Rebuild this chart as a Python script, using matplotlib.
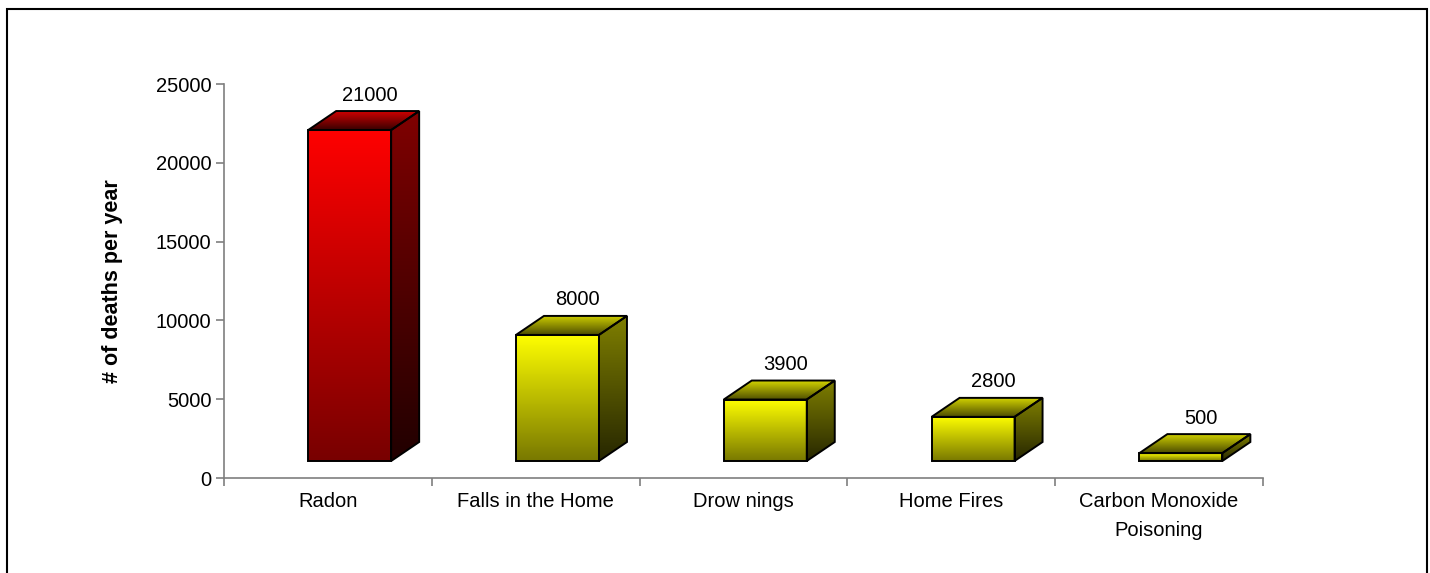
import numpy as np
import matplotlib
matplotlib.use("Agg")
import matplotlib.pyplot as plt
from matplotlib.patches import Polygon, Rectangle

categories = ["Radon", "Falls in the Home", "Drow nings", "Home Fires", "Carbon Monoxide\nPoisoning"]
values = [21000, 8000, 3900, 2800, 500]
value_labels = ["21000", "8000", "3900", "2800", "500"]
yticks = [0, 5000, 10000, 15000, 20000, 25000]

plt.rcParams['font.family'] = ['Liberation Sans', 'DejaVu Sans']

W, H = 1430, 573
fig = plt.figure(figsize=(W / 100, H / 100), dpi=100)
fig.patch.set_facecolor('white')

ax_l, ax_r, ax_t, ax_b = 224, 1263, 84, 478
ax = fig.add_axes([ax_l / W, (H - ax_b) / H, (ax_r - ax_l) / W, (ax_b - ax_t) / H])
ax.set_xlim(0, 5)
ax.set_ylim(0, 25000)

px_cat = (ax_r - ax_l) / 5.0
px_val = (ax_b - ax_t) / 25000.0

# 3D geometry (in data units)
dx = 28 / px_cat
dy = 19 / px_val
base = 17 / px_val
f_left = -0.095
f_width = 83 / px_cat


def grad_poly(verts, c_top, c_bot):
    verts = np.asarray(verts, float)
    xs, ys = verts[:, 0], verts[:, 1]
    n = 256
    t = np.linspace(0, 1, n)[:, None, None]
    c_top = np.array(c_top, float)[None, None, :]
    c_bot = np.array(c_bot, float)[None, None, :]
    img = c_top * (1 - t) + c_bot * t
    im = ax.imshow(img, extent=[xs.min(), xs.max(), ys.min(), ys.max()],
                   origin='upper', aspect='auto', zorder=2,
                   interpolation='bilinear', clip_on=True)
    clip = Polygon(verts, closed=True, transform=ax.transData)
    im.set_clip_path(clip)
    ax.add_patch(Polygon(verts, closed=True, facecolor='none',
                         edgecolor='black', lw=1.4, zorder=3,
                         joinstyle='miter', clip_on=False))


red = dict(front=((1.0, 0, 0), (0.47, 0, 0)),
           side=((0.50, 0, 0), (0.13, 0, 0)),
           top=((0.85, 0, 0), (0.22, 0, 0)))
yel = dict(front=((1.0, 1.0, 0), (0.47, 0.47, 0)),
           side=((0.50, 0.50, 0), (0.15, 0.15, 0)),
           top=((0.82, 0.82, 0), (0.30, 0.30, 0)))

for i, v in enumerate(values):
    pal = red if i == 0 else yel
    x0 = i + 0.5 + f_left
    x1 = x0 + f_width
    y0 = base
    y1 = base + v
    # side face
    grad_poly([(x1, y0), (x1 + dx, y0 + dy), (x1 + dx, y1 + dy), (x1, y1)], *pal['side'])
    # top face
    grad_poly([(x0, y1), (x1, y1), (x1 + dx, y1 + dy), (x0 + dx, y1 + dy)], *pal['top'])
    # front face
    grad_poly([(x0, y0), (x1, y0), (x1, y1), (x0, y1)], *pal['front'])
    # value label
    ax.text((x0 + x1) / 2 + 20 / px_cat, y1 + dy + 16 / px_val, value_labels[i],
            ha='center', va='center', fontsize=14.5, color='black', zorder=4)

ax.set_xlim(0, 5)
ax.set_ylim(0, 25000)

for s in ['top', 'right']:
    ax.spines[s].set_visible(False)
for s in ['left', 'bottom']:
    ax.spines[s].set_color('#7f7f7f')
    ax.spines[s].set_linewidth(1.2)

ax.set_yticks(yticks)
ax.set_yticklabels([str(t) for t in yticks], fontsize=14.5)
ax.tick_params(axis='y', direction='out', length=6, width=1.2, color='#7f7f7f', pad=3)

ax.set_xticks(np.arange(0, 6))
ax.set_xticklabels([])
ax.tick_params(axis='x', which='major', direction='out', length=6, width=1.2, color='#7f7f7f')
ax.set_xticks(np.arange(5) + 0.5, minor=True)
ax.set_xticklabels(categories, minor=True, fontsize=14.5, linespacing=1.7)
ax.tick_params(axis='x', which='minor', length=0, pad=10)

ax.set_ylabel("# of deaths per year", fontsize=15.5, fontweight='bold')
ax.yaxis.set_label_coords((123 - ax_l) / (ax_r - ax_l), 0.5)

fig.patches.append(Rectangle((7 / W, -0.1), (1427 - 7) / W, 1 - 9 / H + 0.1,
                             transform=fig.transFigure, fill=False,
                             edgecolor='black', lw=1.5))

fig.savefig("out.png", dpi=100, facecolor='white')
